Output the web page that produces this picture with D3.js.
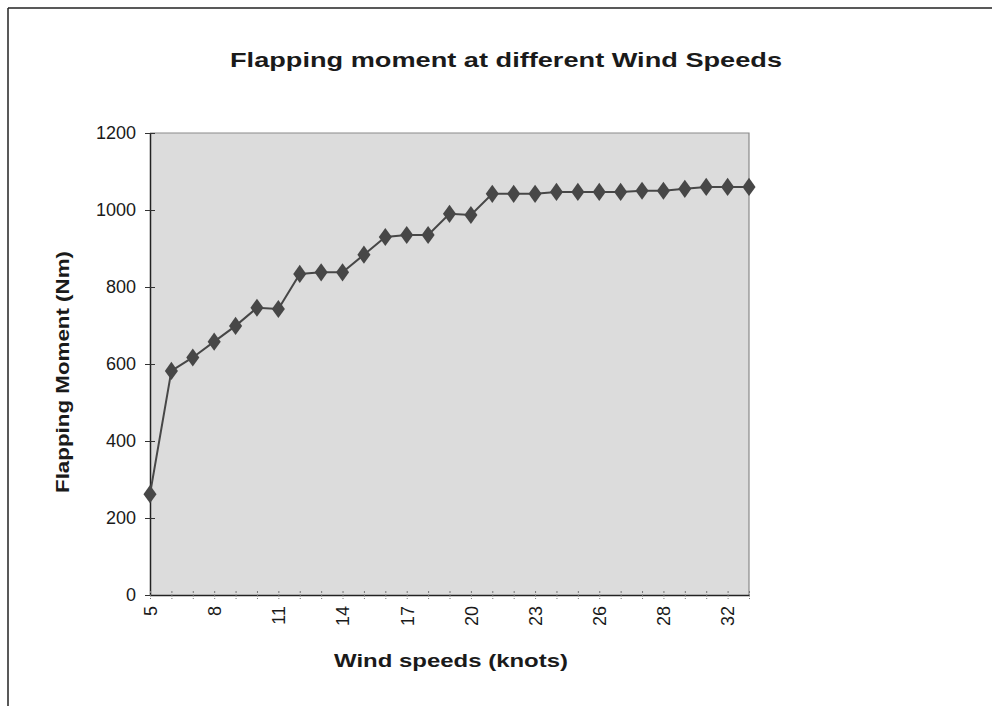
<!DOCTYPE html>
<html>
<head>
<meta charset="utf-8">
<script src="https://cdn.jsdelivr.net/npm/d3@7/dist/d3.min.js"></script>
<style>
  html, body { margin: 0; padding: 0; background: #ffffff; }
  svg { display: block; }
  text { font-family: "Liberation Sans", Arial, sans-serif; fill: #1a1a1a; }
</style>
</head>
<body>
<svg id="chart" width="992" height="706"></svg>
<script>
// ---- data ----
const categories = ["5","6","7","8","9","10","11","12","13","14","15","16","17","18","19","20",
  "21","22","23","24","25","26","27","27.5","28","29","30","32","33"];
const moments = [262, 582, 617, 658, 699, 746, 743, 834, 838, 838, 884, 930, 935, 935, 990, 987,
  1042, 1042, 1042, 1047, 1047, 1047, 1047, 1050, 1050, 1055, 1060, 1060, 1060];
const yTicks = [0, 200, 400, 600, 800, 1000, 1200];
const labelEvery = 3;
const titleText = "Flapping moment at different Wind Speeds";
const xTitle = "Wind speeds (knots)";
const yTitle = "Flapping Moment (Nm)";

// ---- layout ----
const svg = d3.select("#chart");
const plot = { left: 150, right: 749, top: 133, bottom: 595 };

// outer frame
svg.append("line").attr("x1", 8).attr("x2", 992).attr("y1", 8).attr("y2", 8)
  .attr("stroke", "#222").attr("stroke-width", 1.5);
svg.append("line").attr("x1", 8).attr("x2", 8).attr("y1", 8).attr("y2", 706)
  .attr("stroke", "#222").attr("stroke-width", 1.5);

const idx = categories.map((d, i) => i);
const x = d3.scalePoint().domain(idx).range([plot.left, plot.right]);
const y = d3.scaleLinear().domain([0, 1200]).range([plot.bottom, plot.top]);

// plot area
svg.append("rect").attr("x", plot.left).attr("y", plot.top)
  .attr("width", plot.right - plot.left).attr("height", plot.bottom - plot.top)
  .attr("fill", "#dcdcdc");
svg.append("path")
  .attr("d", `M${plot.left},${plot.top}H${plot.right}V${plot.bottom}`)
  .attr("fill", "none").attr("stroke", "#8a8a8a").attr("stroke-width", 1.2);

// y axis
const yAxis = d3.axisLeft(y).tickValues(yTicks).tickFormat(d3.format("d"))
  .tickSizeInner(5).tickSizeOuter(0).tickPadding(9);
const gy = svg.append("g").attr("transform", `translate(${plot.left},0)`).call(yAxis);
gy.select(".domain").attr("stroke", "#222").attr("stroke-width", 1.5);
gy.selectAll(".tick line").attr("x2", 5).attr("x1", -5).attr("stroke", "#333");
gy.selectAll(".tick text").attr("font-size", 18).attr("fill", "#1a1a1a")
  .attr("font-family", "Liberation Sans, Arial, sans-serif");

// x axis
const xAxis = d3.axisBottom(x).tickSizeInner(4).tickSizeOuter(0)
  .tickFormat(i => (i % labelEvery === 0 ? categories[i] : ""));
const gx = svg.append("g").attr("transform", `translate(0,${plot.bottom})`).call(xAxis);
gx.select(".domain").attr("stroke", "#222").attr("stroke-width", 1.5);
gx.selectAll(".tick line").attr("y1", -4).attr("y2", 4).attr("stroke", "#777")
  .attr("stroke-dasharray", "2,1.5");
gx.selectAll(".tick text")
  .attr("font-size", 18).attr("fill", "#1a1a1a")
  .attr("font-family", "Liberation Sans, Arial, sans-serif")
  .attr("transform", "rotate(-90)")
  .attr("text-anchor", "end")
  .attr("dy", "0.35em")
  .attr("x", -11).attr("y", 0);

// line
const line = d3.line().x((d, i) => x(i)).y(d => y(d));
svg.append("path").datum(moments).attr("d", line)
  .attr("fill", "none").attr("stroke", "#474747").attr("stroke-width", 2);

// markers
const diamond = d3.symbol().type(d3.symbolDiamond).size(95);
svg.append("g").selectAll("path").data(moments).join("path")
  .attr("d", diamond)
  .attr("transform", (d, i) => `translate(${x(i)},${y(d)}) scale(1.25,1)`)
  .attr("fill", "#474747");

// titles
svg.append("text").attr("x", 506).attr("y", 67).attr("text-anchor", "middle")
  .attr("font-size", 21).attr("font-weight", "bold")
  .attr("textLength", 552).attr("lengthAdjust", "spacingAndGlyphs")
  .text(titleText);

svg.append("text").attr("x", 451).attr("y", 667).attr("text-anchor", "middle")
  .attr("font-size", 18).attr("font-weight", "bold")
  .attr("textLength", 234).attr("lengthAdjust", "spacingAndGlyphs")
  .text(xTitle);

svg.append("text").attr("transform", "translate(69,372) rotate(-90)")
  .attr("text-anchor", "middle")
  .attr("font-size", 18).attr("font-weight", "bold")
  .attr("textLength", 242).attr("lengthAdjust", "spacingAndGlyphs")
  .text(yTitle);
</script>
</body>
</html>
